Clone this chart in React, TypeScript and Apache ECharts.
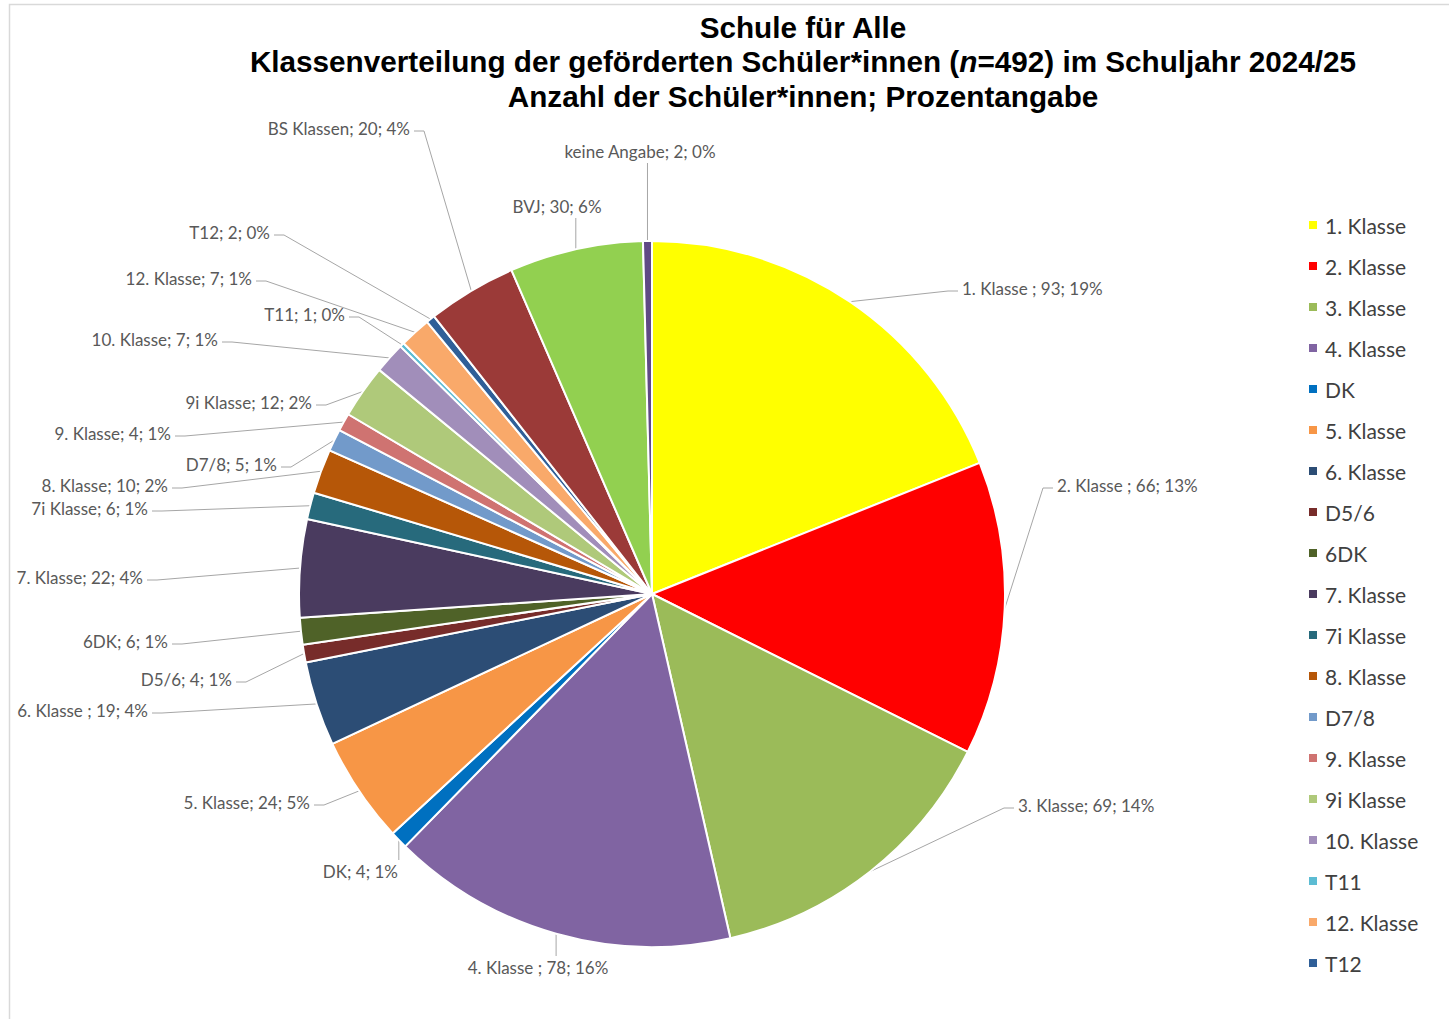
import React, { useEffect, useRef } from "react";
import * as echarts from "echarts";

const categories: string[] = [
  "1. Klasse ", "2. Klasse ", "3. Klasse", "4. Klasse ", "DK", "5. Klasse",
  "6. Klasse ", "D5/6", "6DK", "7. Klasse", "7i Klasse", "8. Klasse", "D7/8",
  "9. Klasse", "9i Klasse", "10. Klasse", "T11", "12. Klasse", "T12",
  "BS Klassen", "BVJ", "keine Angabe",
];
const values: number[] = [93, 66, 69, 78, 4, 24, 19, 4, 6, 22, 6, 10, 5, 4, 12, 7, 1, 7, 2, 20, 30, 2];
const colors: string[] = [
  "#FFFF00", "#FF0000", "#9BBB59", "#8064A2", "#0070C0", "#F79646",
  "#2C4D75", "#772C2A", "#4F6228", "#4A3B5F", "#276A7C", "#B65708", "#729ACA",
  "#CF7371", "#AFC97A", "#A18EBA", "#5CBCD3", "#F9A96A", "#2F5F98",
  "#9B3A38", "#92D050", "#5F4A85",
];
const legendCount = 19;
const titleLines: string[] = [
  "Schule für Alle",
  "Klassenverteilung der geförderten Schüler*innen ({i|n}=492) im Schuljahr 2024/25",
  "Anzahl der Schüler*innen; Prozentangabe",
];

// Label placement (anchor x, anchor y, text align, placement relative to leader line)
const labelPlacement: [number, number, string, string][] = [
  [962, 288, "left", "side"],
  [1057, 485, "left", "side"],
  [1018, 805, "left", "side"],
  [538, 967, "center", "below"],
  [398, 871, "right", "below"],
  [310, 802, "right", "side"],
  [148, 710, "right", "side"],
  [232, 679, "right", "side"],
  [168, 641, "right", "side"],
  [143, 577, "right", "side"],
  [148, 508, "right", "side"],
  [168, 485, "right", "side"],
  [277, 464, "right", "side"],
  [171, 433, "right", "side"],
  [312, 402, "right", "side"],
  [218, 339, "right", "side"],
  [345, 314, "right", "side"],
  [252, 278, "right", "side"],
  [270, 232, "right", "side"],
  [410, 128, "right", "side"],
  [557, 206, "center", "above"],
  [640, 151, "center", "above"],
];

export default function App() {
  const ref = useRef<HTMLDivElement>(null);
  useEffect(() => {
    document.body.style.margin = "0";
    const chart = echarts.init(ref.current!, undefined, { renderer: "svg" });
    const total = values.reduce((a, b) => a + b, 0);
    const titleFont = "'Liberation Sans', Arial, sans-serif";
    const labelFont = "Lato, sans-serif";
    chart.setOption({
      animation: false,
      backgroundColor: "#ffffff",
      graphic: [
        {
          type: "rect",
          shape: { x: 9.5, y: 4.5, width: 1460, height: 1040 },
          style: { fill: "none", stroke: "#D9D9D9", lineWidth: 1.5 },
          silent: true,
        },
        ...titleLines.map((t, i) => ({
          type: "text",
          x: 803,
          y: 27 + i * 34.5,
          style: {
            text: t,
            fontFamily: titleFont,
            fontSize: 29.7,
            fontWeight: "bold",
            fill: "#000000",
            align: "center",
            verticalAlign: "middle",
            rich: {
              i: { fontStyle: "italic", fontWeight: "bold", fontSize: 29.7, fontFamily: titleFont, fill: "#000000" },
            },
          },
        })),
      ],
      legend: {
        orient: "vertical",
        left: 1302,
        top: 209.5,
        itemWidth: 10,
        itemHeight: 10,
        itemGap: 20,
        icon: "rect",
        data: categories.slice(0, legendCount),
        textStyle: { fontFamily: labelFont, fontSize: 21, color: "#404040", padding: [0, 0, 0, 2] },
        formatter: (n: string) => n.trim(),
      },
      series: [
        {
          type: "pie",
          center: [652, 594],
          radius: 353,
          startAngle: 90,
          clockwise: true,
          avoidLabelOverlap: false,
          minShowLabelAngle: 0,
          itemStyle: { borderColor: "#ffffff", borderWidth: 2 },
          label: {
            show: true,
            position: "outside",
            fontFamily: labelFont,
            fontSize: 17,
            color: "#595959",
            formatter: (p: any) => `${p.name}; ${p.value}; ${Math.round((p.value / total) * 100)}%`,
          },
          labelLine: {
            show: true,
            length: 20,
            length2: 10,
            lineStyle: { color: "#A6A6A6", width: 1 },
          },
          labelLayout: (p: any) => {
            const lp = labelPlacement[p.dataIndex];
            if (!lp) return {};
            const [x, y, align, kind] = lp;
            const pts = p.labelLinePoints;
            const s = pts && pts[0] ? pts[0] : [x, y];
            let linePts: number[][];
            if (kind === "below") {
              linePts = [s, [s[0], y - 11]];
            } else if (kind === "above") {
              linePts = [s, [s[0], y + 12]];
            } else if (align === "left") {
              linePts = [s, [x - 14, y + 3], [x - 4, y + 3]];
            } else {
              linePts = [s, [x + 14, y + 3], [x + 4, y + 3]];
            }
            return { x, y, align, verticalAlign: "middle", labelLinePoints: linePts };
          },
          data: categories.map((c, i) => ({ name: c, value: values[i], itemStyle: { color: colors[i] } })),
        },
      ],
    });
    return () => chart.dispose();
  }, []);
  return <div ref={ref} style={{ position: "absolute", left: 0, top: 0, width: 1449, height: 1019 }} />;
}
